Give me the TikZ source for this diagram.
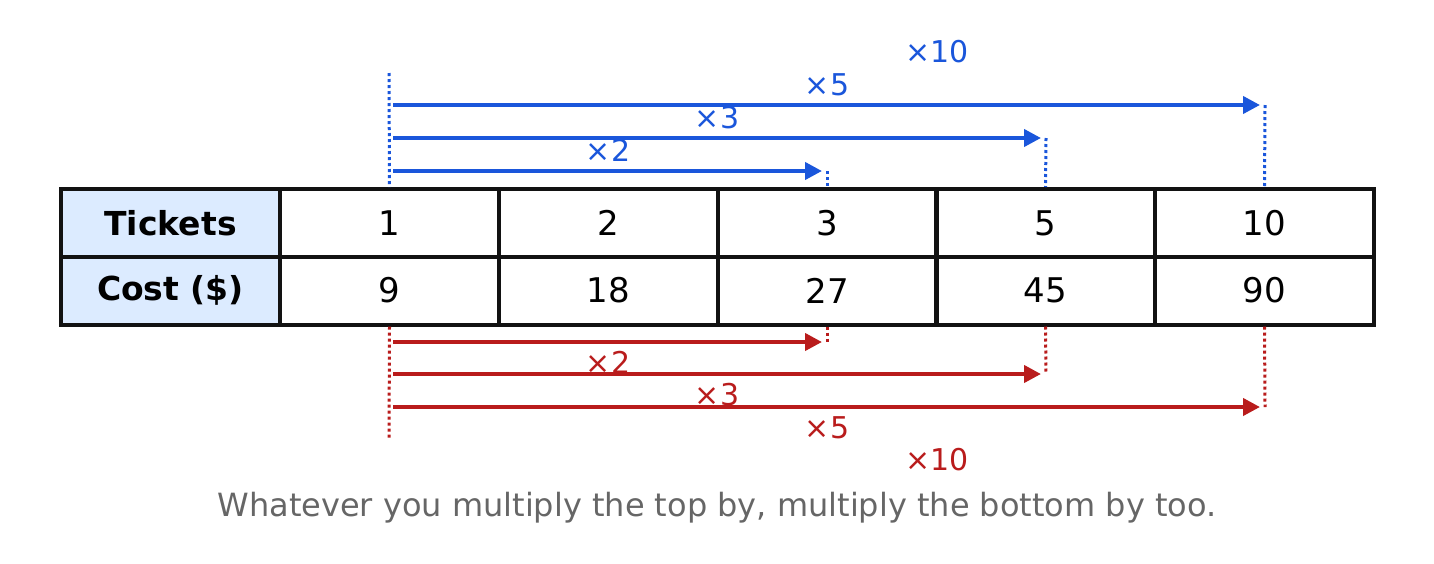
\documentclass[tikz,border=0pt]{standalone}
\usepackage{fontspec}
\setmainfont{DejaVu Sans}
\usetikzlibrary{arrows.meta}
\definecolor{bl}{HTML}{1A56DB}
\definecolor{rd}{HTML}{B91C1C}
\definecolor{hd}{HTML}{DCEBFF}
\definecolor{cap}{HTML}{666666}
\begin{document}
\begin{tikzpicture}[x=1pt,y=-1pt,
  cell/.style={draw=black!93,line width=4pt,minimum width=219pt,minimum height=68pt,inner sep=0pt,font=\fontsize{34}{40}\selectfont},
  hcell/.style={cell,fill=hd,font=\fontsize{33}{40}\selectfont\bfseries},
  arr/.style={line width=4pt,-{Triangle[length=17pt,width=17pt]}},
  dot/.style={line width=3pt,dash pattern=on 3pt off 3pt},
  lab/.style={font=\fontsize{30}{36}\selectfont,fill=white,inner sep=1pt}]
\useasboundingbox (0,0) rectangle (1434,563);
\node[hcell] (h1) at (170.5,223) {Tickets};
\node[hcell] (h2) at (170.5,290.5) {Cost (\$)};
\foreach \i/\x/\a/\b in {1/389.5/1/9,2/608.5/2/18,3/827/3/27,4/1045.5/5/45,5/1264.5/10/90}{
  \node[cell] (t\i) at (\x,223) {\a};
  \node[cell] (c\i) at (\x,290.5) {\b};
}
% blue
\coordinate (bl0) at (389,73);
\draw[bl,dot] (bl0) -- (t1.north);
\foreach \i/\x/\y/\l/\lx/\ly in {3/827/171/2/608/150,4/1046/138/3/717/118,5/1265/105/5/827/85}{
  \coordinate (bs\i) at (393,\y); \coordinate (be\i) at (\x-5,\y); \coordinate (bt\i) at (\x,\y);
  \draw[bl,arr] (bs\i) -- (be\i);
  \draw[bl,dot] (bt\i) -- (t\i.north);
  \node[lab,text=bl] (bl\i) at (\lx,\ly) {×\l};
}
\node[lab,text=bl] (bl10) at (937,52) {×10};
% red
\coordinate (rd0) at (389,440);
\draw[rd,dot] (c1.south) -- (rd0);
\foreach \i/\x/\y/\l/\lx/\ly in {3/827/342/2/608/362,4/1046/374/3/717/395,5/1265/407/5/827/428}{
  \coordinate (rs\i) at (393,\y); \coordinate (re\i) at (\x-5,\y); \coordinate (rt\i) at (\x,\y);
  \draw[rd,arr] (rs\i) -- (re\i);
  \draw[rd,dot] (c\i.south) -- (rt\i);
  \node[lab,text=rd] (rl\i) at (\lx,\ly) {×\l};
}
\node[lab,text=rd] (rl10) at (937,460) {×10};
\node[text=cap,font=\fontsize{32}{38}\selectfont] (capt) at (717,508) {Whatever you multiply the top by, multiply the bottom by too.};
\end{tikzpicture}
\end{document}
